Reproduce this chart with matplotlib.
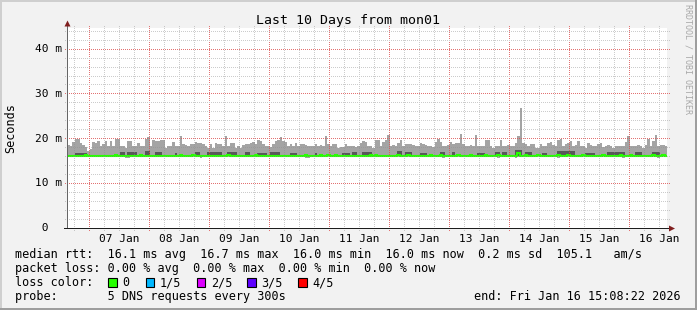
import numpy as np
import matplotlib
matplotlib.use("Agg")
import matplotlib.pyplot as plt
from matplotlib.patches import Rectangle, Polygon
from matplotlib.transforms import Affine2D, blended_transform_factory

plt.rcParams['font.family'] = ['DejaVu Sans Mono']

W, H = 697, 310

title = "Last 10 Days from mon01"
y_label = "Seconds"
watermark = "RRDTOOL / TOBI OETIKER"
day_labels = ["07 Jan", "08 Jan", "09 Jan", "10 Jan", "11 Jan",
              "12 Jan", "13 Jan", "14 Jan", "15 Jan", "16 Jan"]
y_ticks = [0, 10, 20, 30, 40]
y_tick_labels = [" 0", "10 m", "20 m", "30 m", "40 m"]
span_hours = 240          # 10 days, hourly consolidated values
first_midnight = 8.861    # hours from graph start to 07 Jan 00:00
y_max = 44.75             # ms

# smoke: top of light band (max ping), in ms, one value per hour
smoke_max = [
    18.5, 18.3, 19.2, 19.9, 19.9, 19.0, 18.5, 18.1, 17.2, 17.7,
    19.2, 19.0, 19.4, 18.4, 18.7, 19.4, 18.4, 19.4, 18.4, 19.9,
    19.9, 18.3, 18.4, 17.9, 19.4, 19.4, 18.4, 18.3, 19.0, 18.4,
    18.4, 19.9, 20.4, 18.4, 19.8, 19.4, 19.4, 19.8, 19.8, 17.9,
    18.3, 18.4, 19.2, 18.4, 18.3, 20.5, 18.7, 18.6, 18.3, 18.9,
    18.8, 19.2, 19.0, 19.0, 18.9, 18.4, 17.8, 18.9, 17.9, 19.0,
    18.7, 18.9, 18.3, 20.5, 18.3, 19.0, 19.0, 17.9, 18.3, 17.9,
    18.6, 18.9, 18.9, 19.0, 19.3, 18.9, 19.8, 19.4, 18.9, 18.3,
    18.3, 18.1, 18.9, 19.4, 19.8, 20.4, 19.4, 19.2, 18.3, 18.9,
    18.3, 19.0, 18.3, 18.9, 18.7, 18.5, 18.3, 18.3, 18.4, 18.7,
    18.3, 18.6, 18.3, 20.5, 18.9, 18.3, 18.9, 18.9, 17.9, 18.1,
    18.1, 18.8, 18.4,
    18.4, 18.3, 18.1, 18.4, 19.0, 19.4, 19.2, 18.4, 18.3, 17.9,
    19.8, 19.8, 18.3, 19.2, 19.8, 20.9, 18.4, 18.6, 18.3, 19.0,
    19.6, 18.3, 18.9, 18.7, 18.7, 18.5, 18.4, 18.3, 19.0, 18.9,
    18.6, 18.3, 18.3, 18.1, 19.2, 19.9, 19.2, 18.3, 18.3, 18.5,
    19.2, 18.9, 19.0, 19.0, 21.1, 18.7, 18.4, 18.3, 18.6, 18.3,
    20.7, 18.3, 18.3, 18.3, 19.8, 19.8, 18.3, 17.9, 18.3, 18.3,
    19.8, 18.4, 18.3, 18.6, 18.3, 18.3, 19.0, 20.5, 26.8, 19.0,
    18.9, 18.3, 18.8, 18.8, 17.9, 17.9, 18.9, 18.3, 18.3, 19.0,
    19.2, 18.6, 18.3, 19.8, 19.9, 18.3, 18.7, 19.0, 19.4, 18.3,
    18.6, 19.4, 18.3, 18.3, 17.9, 19.0, 18.5, 18.3, 18.3, 18.8,
    19.0, 18.1, 18.3, 18.6, 18.3, 17.9, 18.3, 18.4, 18.3, 18.3,
    19.2, 20.5, 18.4, 18.3, 18.3, 18.6, 18.3, 17.9, 18.6, 19.9,
    18.3, 19.4, 20.7, 18.3, 18.6, 18.5, 18.3,
]

# smoke: top of dark inner band (2nd highest ping), ms
smoke_p4 = [
    16.4, 16.4, 16.4, 16.8, 16.8, 16.8, 16.8, 16.8, 16.4, 16.4,
    16.4, 16.4, 16.4, 16.4, 16.4, 16.4, 16.4, 16.4, 16.4, 16.4,
    16.4, 17.0, 17.0, 16.4, 17.0, 17.0, 17.0, 17.0, 16.4, 16.4,
    16.4, 17.3, 17.3, 16.4, 16.4, 16.9, 16.9, 16.9, 16.4, 16.4,
    16.4, 16.4, 16.4, 16.8, 16.4, 16.4, 16.4, 16.4, 16.4, 16.4,
    16.4, 17.0, 17.0, 16.4, 16.4, 16.4, 16.9, 16.9, 16.9, 16.9,
    16.9, 16.9, 16.4, 16.4, 16.9, 16.9, 16.9, 16.9, 16.4, 16.4,
    16.4, 17.0, 17.0, 16.4, 16.4, 16.4, 16.8, 16.8, 16.8, 16.8,
    16.4, 16.9, 16.9, 16.9, 16.9, 16.4, 16.4, 16.4, 16.4, 16.8,
    16.8, 16.8, 16.4, 16.4, 16.4, 16.4, 16.4, 16.4, 16.4, 16.8,
    16.4, 16.4, 16.4, 16.4, 16.4, 16.4, 16.4, 16.4, 16.4, 16.4,
    16.8, 16.8, 16.8, 16.4, 17.1, 17.1, 16.4, 16.4, 16.9, 16.9,
    16.9, 16.9, 16.4, 16.4, 16.4, 16.4, 16.4, 16.4, 16.4, 16.4,
    16.4, 16.4, 17.2, 17.2, 16.4, 17.0, 17.0, 17.0, 16.4, 16.4,
    16.4, 16.8, 16.8, 16.8, 16.4, 16.4, 16.4, 16.4, 16.4, 17.1,
    17.1, 16.4, 16.4, 16.4, 16.9, 16.4, 16.4, 16.4, 16.4, 16.4,
    16.4, 16.4, 16.4, 16.4, 16.8, 16.8, 16.8, 16.4, 16.4, 16.4,
    16.4, 17.0, 17.0, 16.4, 16.9, 16.9, 16.4, 16.4, 16.4, 17.5,
    17.5, 17.5, 16.4, 16.9, 16.9, 16.9, 16.4, 16.4, 16.4, 16.4,
    16.8, 16.8, 16.4, 16.4, 16.4, 16.4, 17.3, 17.3, 17.3, 17.3,
    17.3, 17.3, 17.3, 16.4, 16.4, 16.4, 16.4, 16.8, 16.8, 16.8,
    16.8, 16.4, 16.4, 16.4, 16.4, 16.4, 17.0, 17.0, 17.0, 17.0,
    17.0, 17.0, 17.0, 16.4, 16.4, 16.4, 16.4, 16.9, 16.9, 16.9,
    16.4, 16.4, 16.4, 16.4, 16.9, 16.9, 16.9, 16.4, 16.4, 16.4,
]

# smoke: bottom of dark inner band (2nd lowest ping), ms
smoke_p2 = [
    16.0, 16.0, 16.0, 16.0, 16.0, 16.0, 16.0, 16.0, 16.0, 16.0,
    16.0, 16.0, 16.0, 16.0, 16.0, 16.0, 16.0, 16.0, 16.0, 16.0,
    16.0, 16.0, 16.0, 16.0, 16.0, 16.0, 16.0, 16.0, 16.0, 16.0,
    16.0, 16.0, 16.0, 16.0, 16.0, 16.0, 16.0, 16.0, 16.0, 16.0,
    16.0, 16.0, 16.0, 16.0, 16.0, 16.0, 16.0, 16.0, 16.0, 16.0,
    16.0, 16.0, 16.0, 16.0, 16.0, 16.0, 16.0, 16.0, 16.0, 16.0,
    16.0, 16.0, 16.0, 16.0, 16.0, 16.0, 16.0, 16.0, 16.0, 16.0,
    16.0, 16.0, 16.0, 16.0, 16.0, 16.0, 16.0, 16.0, 16.0, 16.0,
    16.0, 16.0, 16.0, 16.0, 16.0, 16.0, 16.0, 16.0, 16.0, 16.0,
    16.0, 16.0, 16.0, 16.0, 16.0, 16.0, 16.0, 16.0, 16.0, 16.0,
    16.0, 16.0, 16.0, 16.0, 16.0, 16.0, 16.0, 16.0, 16.0, 16.0,
    16.0, 16.0, 16.0, 16.0, 16.0, 16.0, 16.0, 16.0, 16.0, 16.0,
    16.0, 16.0, 16.0, 16.0, 16.0, 16.0, 16.0, 16.0, 16.0, 16.0,
    16.0, 16.0, 16.0, 16.0, 16.0, 16.0, 16.0, 16.0, 16.0, 16.0,
    16.0, 16.0, 16.0, 16.0, 16.0, 16.0, 16.0, 16.0, 16.0, 16.0,
    16.0, 16.0, 16.0, 16.0, 16.0, 16.0, 16.0, 16.0, 16.0, 16.0,
    16.0, 16.0, 16.0, 16.0, 16.0, 16.0, 16.0, 16.0, 16.0, 16.0,
    16.0, 16.0, 16.0, 16.0, 16.0, 16.0, 16.0, 16.0, 16.0, 16.0,
    16.0, 16.0, 16.0, 16.0, 16.0, 16.0, 16.0, 16.0, 16.0, 16.0,
    16.0, 16.0, 16.0, 16.0, 16.0, 16.0, 16.0, 16.0, 16.0, 16.0,
    16.0, 16.0, 16.0, 16.0, 16.0, 16.0, 16.0, 16.0, 16.0, 16.0,
    16.0, 16.0, 16.0, 16.0, 16.0, 16.0, 16.0, 16.0, 16.0, 16.0,
    16.0, 16.0, 16.0, 16.0, 16.0, 16.0, 16.0, 16.0, 16.0, 16.0,
    16.0, 16.0, 16.0, 16.0, 16.0, 16.0, 16.0, 16.0, 16.0, 16.0,
]

# smoke: bottom of light band (min ping), ms
smoke_min = [
    15.9, 15.9, 15.9, 15.9, 15.9, 15.9, 15.9, 15.9, 15.9, 15.9,
    15.9, 15.9, 15.9, 15.9, 15.9, 15.9, 15.9, 15.9, 15.9, 15.9,
    15.9, 15.9, 15.9, 15.6, 15.6, 15.9, 15.9, 15.9, 15.9, 15.9,
    15.9, 15.9, 15.9, 15.9, 15.9, 15.9, 15.9, 15.9, 15.9, 15.9,
    15.9, 15.9, 15.9, 15.9, 15.9, 15.9, 15.9, 15.9, 15.9, 15.9,
    15.9, 15.9, 15.9, 15.6, 15.9, 15.9, 15.9, 15.9, 15.9, 15.9,
    15.9, 15.9, 15.9, 15.9, 15.9, 15.9, 15.9, 15.9, 15.9, 15.9,
    15.9, 15.9, 15.9, 15.9, 15.9, 15.9, 15.9, 15.9, 15.9, 15.9,
    15.9, 15.9, 15.9, 15.9, 15.9, 15.9, 15.9, 15.9, 15.9, 15.9,
    15.9, 15.9, 15.9, 15.9, 15.9, 15.6, 15.6, 15.9, 15.9, 15.9,
    15.9, 15.9, 15.9, 15.9, 15.9, 15.9, 15.9, 15.9, 15.9, 15.9,
    15.9, 15.9, 15.9, 15.9, 15.9, 15.9, 15.9, 15.9, 15.9, 15.9,
    15.9, 15.9, 15.9, 15.9, 15.9, 15.9, 15.9, 15.9, 15.9, 15.9,
    15.9, 15.9, 15.9, 15.9, 15.9, 15.9, 15.9, 15.9, 15.9, 15.9,
    15.9, 15.9, 15.9, 15.9, 15.9, 15.9, 15.9, 15.9, 15.9, 15.9,
    15.6, 15.9, 15.9, 15.9, 15.9, 15.9, 15.9, 15.9, 15.9, 15.9,
    15.9, 15.9, 15.9, 15.9, 15.9, 15.9, 15.9, 15.9, 15.9, 15.9,
    15.9, 15.9, 15.6, 15.9, 15.9, 15.9, 15.9, 15.9, 15.9, 15.6,
    15.9, 15.9, 15.9, 15.9, 15.9, 15.9, 15.9, 15.9, 15.9, 15.9,
    15.9, 15.9, 15.9, 15.9, 15.9, 15.9, 15.6, 15.9, 15.9, 15.9,
    15.9, 15.9, 15.9, 15.9, 15.9, 15.9, 15.9, 15.9, 15.9, 15.9,
    15.9, 15.9, 15.9, 15.9, 15.9, 15.9, 15.9, 15.9, 15.9, 15.9,
    15.9, 15.9, 15.6, 15.9, 15.9, 15.9, 15.9, 15.9, 15.9, 15.9,
    15.9, 15.9, 15.9, 15.9, 15.9, 15.9, 15.6, 15.9, 15.9, 15.9,
]

# median rtt, ms (drawn with the loss colour: 0 loss everywhere)
median = [
    16.0, 16.0, 16.0, 16.0, 16.0, 16.0, 16.0, 16.4, 16.0, 16.0,
    16.0, 16.0, 16.0, 16.0, 16.0, 16.0, 16.0, 16.0, 16.0, 16.4,
    16.0, 16.0, 16.0, 16.0, 16.0, 16.0, 16.0, 16.0, 16.0, 16.4,
    16.0, 16.0, 16.0, 16.0, 16.0, 16.0, 16.0, 16.0, 16.0, 16.0,
    16.0, 16.0, 16.0, 16.0, 16.0, 16.4, 16.0, 16.0, 16.0, 16.0,
    16.4, 16.0, 16.0, 16.0, 16.0, 16.0, 16.0, 16.0, 16.0, 16.0,
    16.0, 16.0, 16.0, 16.0, 16.4, 16.0, 16.0, 16.0, 16.0, 16.0,
    16.0, 16.0, 16.0, 16.0, 16.0, 16.4, 16.0, 16.0, 16.0, 16.0,
    16.0, 16.0, 16.0, 16.0, 16.0, 16.0, 16.0, 16.0, 16.0, 16.0,
    16.0, 16.0, 16.0, 16.0, 16.0, 16.4, 16.0, 16.0, 16.0, 16.0,
    16.0, 16.4, 16.0, 16.0, 16.4, 16.0, 16.0, 16.4, 16.0, 16.0,
    16.0, 16.0, 16.0, 16.0, 16.0, 16.0, 16.0, 16.0, 16.0, 16.0,
    16.0, 16.4, 16.0, 16.4, 16.0, 16.0, 16.0, 16.0, 16.0, 16.0,
    16.0, 16.0, 16.4, 16.0, 16.0, 16.0, 16.4, 16.0, 16.0, 16.0,
    16.0, 16.0, 16.0, 16.0, 16.0, 16.4, 16.0, 16.0, 16.0, 16.4,
    16.0, 16.0, 16.0, 16.0, 16.0, 16.0, 16.4, 16.0, 16.0, 16.0,
    16.0, 16.4, 16.0, 16.0, 16.0, 16.0, 16.0, 16.4, 16.0, 16.0,
    16.0, 16.0, 16.4, 16.0, 16.0, 16.0, 16.0, 16.0, 16.0, 16.0,
    16.7, 16.0, 16.0, 16.4, 16.0, 16.0, 16.0, 16.0, 16.4, 16.0,
    16.0, 16.0, 16.0, 16.0, 16.0, 16.0, 16.4, 16.0, 16.0, 16.0,
    16.4, 16.0, 16.0, 16.0, 16.0, 16.0, 16.4, 16.0, 16.0, 16.0,
    16.0, 16.0, 16.0, 16.0, 16.4, 16.0, 16.0, 16.0, 16.0, 16.0,
    16.0, 16.4, 16.0, 16.0, 16.0, 16.4, 16.0, 16.0, 16.0, 16.0,
    16.0, 16.0, 16.0, 16.0, 16.4, 16.0, 16.0, 16.0, 16.4, 16.0,
]

legend_rtt = "median rtt:  16.1 ms avg  16.7 ms max  16.0 ms min  16.0 ms now  0.2 ms sd  105.1   am/s"
legend_loss = "packet loss: 0.00 % avg  0.00 % max  0.00 % min  0.00 % now"
legend_color_title = "loss color:"
loss_labels = ["0", "1/5", "2/5", "3/5", "4/5"]
loss_colors = ["#26ff00", "#00b8ff", "#dd00ff", "#5e00ff", "#ff0000"]
legend_probe = "probe:       5 DNS requests every 300s"
end_text = "end: Fri Jan 16 15:08:22 2026"

# ---------------------------------------------------------------------------
fig = plt.figure(figsize=(W / 100, H / 100), dpi=100, facecolor="#f2f2f2")
pix = Affine2D().scale(1.0 / W, -1.0 / H).translate(0, 1) + fig.transFigure

# 3D frame
for (x, y, w, h, c) in [(0, 0, W, 2, "#cfcfcf"), (0, 0, 2, H, "#cfcfcf"),
                        (0, H - 2, W, 2, "#9e9e9e"), (W - 2, 0, 2, H, "#9e9e9e")]:
    fig.add_artist(Rectangle((x, y), w, h, transform=pix, facecolor=c,
                             edgecolor="none", zorder=0))

ax = fig.add_axes([67 / W, 1 - 228 / H, 600 / W, 200 / H])
ax.set_xlim(0, span_hours)
ax.set_ylim(0, y_max)
ax.set_facecolor("white")
for s in ax.spines.values():
    s.set_visible(False)
ax.set_xticks([])
ax.set_yticks([])

n = min(len(smoke_max), len(smoke_p4), len(smoke_p2), len(smoke_min), len(median))
edges = np.arange(n + 1)


def ext(a):
    a = np.asarray(a[:n], float)
    return np.append(a, a[-1])


ax.fill_between(edges, ext(smoke_min), ext(smoke_max), step="post",
                color="#a4a4a4", lw=0, antialiased=False, zorder=2)
ax.fill_between(edges, ext(smoke_p2), ext(smoke_p4), step="post",
                color="#585858", lw=0, antialiased=False, zorder=3)
ax.step(edges, ext(median), where="post", color=loss_colors[0], lw=1.5,
        zorder=4, solid_joinstyle="miter")

# dotted grid + axes as a crisp pixel overlay (positions from the axes transform)
T = ax.transData
x0d, y0d = T.transform((0, 0))
x1d, y1d = T.transform((span_hours, y_max))
left_col = int(np.floor(x0d))
right_col = int(np.floor(x1d))
bottom_row = int(np.floor(H - y0d))
top_row = int(np.floor(H - y1d))

overlay = np.zeros((H, W, 4))
minor_c = (0.56, 0.56, 0.56, 0.45)
major_c = (0.87, 0.31, 0.31, 0.80)

k = -1
while first_midnight + 6 * k < span_hours:
    t = first_midnight + 6 * k
    col = int(np.floor(T.transform((t, 0))[0]))
    c = major_c if k % 4 == 0 else minor_c
    for r in range(top_row - 2, bottom_row + 3, 2):
        overlay[r, col] = c
    k += 1
for v in range(2, int(y_max) + 1, 2):
    row = int(np.floor(H - T.transform((0, v))[1]))
    c = major_c if v % 10 == 0 else minor_c
    for cc in range(left_col - 2, right_col + 3, 2):
        overlay[row, cc] = c
for cc in range(left_col - 3, right_col + 3):
    overlay[bottom_row, cc] = (0.12, 0.12, 0.12, 1.0)
for r in range(top_row - 2, bottom_row):
    overlay[r, left_col] = (0.40, 0.40, 0.40, 1.0)
fig.figimage(overlay, xo=0, yo=0, origin="upper", zorder=2)

fig.add_artist(Polygon([(left_col - 2.5, top_row - 1.5), (left_col + 3.5, top_row - 1.5),
                        (left_col + 0.5, top_row - 7.5)], closed=True,
                       transform=pix, facecolor="#801f1f", edgecolor="none", zorder=4))
fig.add_artist(Polygon([(right_col + 2, bottom_row - 2.5), (right_col + 2, bottom_row + 3.5),
                        (right_col + 8, bottom_row + 0.5)], closed=True,
                       transform=pix, facecolor="#801f1f", edgecolor="none", zorder=4))

# tick labels
ytrans = blended_transform_factory(pix, ax.transData)
for v, lbl in zip(y_ticks, y_tick_labels):
    fig.text(35.4, v, lbl, transform=ytrans, ha="left", va="center", fontsize=8)
xtrans = blended_transform_factory(ax.transData, pix)
for i, lbl in enumerate(day_labels):
    fig.text(first_midnight + 12 + 24 * i, 241.5, lbl, transform=xtrans,
             ha="center", va="baseline", fontsize=8)

# titles
fig.text(348.5, 24, title, transform=pix, ha="center", va="baseline", fontsize=9.5)
fig.text(10.5, 128, y_label, transform=pix, ha="center", va="center",
         rotation=90, fontsize=8.5)
fig.text(688, 4.5, watermark, transform=pix, ha="center", va="top",
         rotation=270, fontsize=6, color="#a8a8a8")

# legend
fs = 8.5
fig.text(15.3, 258.3, legend_rtt, transform=pix, ha="left", va="baseline", fontsize=fs)
fig.text(15.3, 272.3, legend_loss, transform=pix, ha="left", va="baseline", fontsize=fs)
fig.text(15.3, 286.3, legend_color_title, transform=pix, ha="left", va="baseline", fontsize=fs)
box_x = [108.3, 145.7, 196.7, 247.3, 298.3]
for bx, lbl, c in zip(box_x, loss_labels, loss_colors):
    fig.add_artist(Rectangle((bx, 278.3), 8.6, 8.6, transform=pix, facecolor=c,
                             edgecolor="black", lw=0.8, zorder=4))
    fig.text(bx + 14.3, 286.3, lbl, transform=pix, ha="left", va="baseline", fontsize=fs)
fig.text(15.3, 300.3, legend_probe, transform=pix, ha="left", va="baseline", fontsize=fs)
fig.text(681, 300.3, end_text, transform=pix, ha="right", va="baseline", fontsize=fs)

fig.savefig("out.png", dpi=100, facecolor=fig.get_facecolor())
